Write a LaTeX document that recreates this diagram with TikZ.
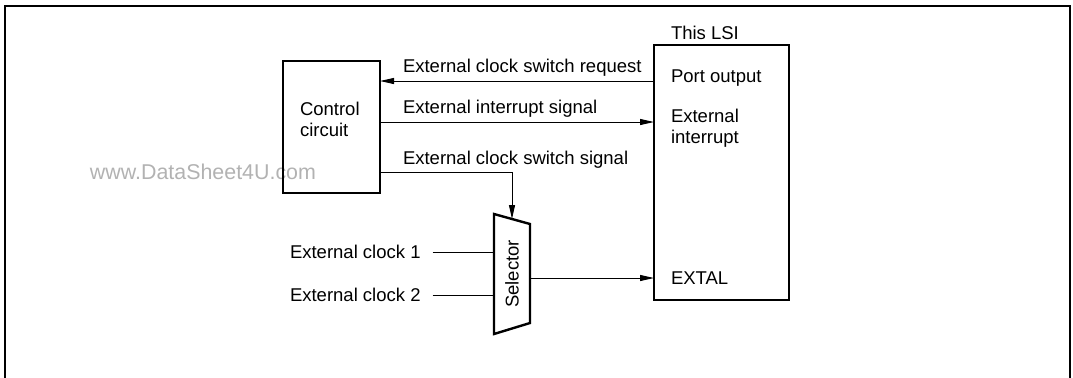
\documentclass[tikz,border=0pt]{standalone}
\usepackage{fontspec}
\setmainfont{Liberation Sans}
\usetikzlibrary{arrows.meta,positioning,calc}

\begin{document}
\begin{tikzpicture}[x=0.5pt, y=-0.5pt,
          blk/.style={draw, line width=1.2pt, inner sep=0pt, outer sep=0pt,
                      anchor=north west},
          lbl/.style={inner sep=0pt, outer sep=0pt, anchor=west, align=left,
                      font=\fontsize{9.25}{10.5}\selectfont},
          arr/.style={-{Triangle[length=7pt, width=3pt]}, line width=0.5pt},
          wire/.style={line width=0.5pt}
        ]
          \useasboundingbox (0,0) rectangle (1073,377);
          \draw[line width=1pt] (5,380) -- (5,6) -- (1070,6) -- (1070,380);
          \node[lbl, text=black!30, font=\fontsize{10.7}{12}\selectfont] (wm) at (90,172) {www.DataSheet4U.com};
          \node[blk, minimum width=48.5pt, minimum height=66pt] (ctrl) at (283,61) {};
          \node[lbl] (ctrltxt) at (300,119.5) {Control\\circuit};
          \node[blk, minimum width=67.5pt, minimum height=127.5pt] (lsi) at (654,45) {};
          \node[lbl] (lsititle) at (671,33) {This LSI};
          \node[lbl] (port) at (671,78) {Port output};
          \node[lbl] (extint) at (671,128.5) {External\\interrupt};
          \node[lbl] (extal) at (671,278) {EXTAL};
          \coordinate (s1) at (494,214);
          \coordinate (s2) at (530,224);
          \coordinate (s3) at (530,323);
          \coordinate (s4) at (494,334);
          \draw[line width=1.2pt] (s1) -- (s2) -- (s3) -- (s4) -- cycle;
          \node[lbl, rotate=90, anchor=center] (sel) at (512,274) {Selector};
          \coordinate (seltop) at (512,219);
          \coordinate (selout) at (530,278);
          \node[lbl] (clk1) at (290,252) {External clock 1};
          \node[lbl] (clk2) at (290,295) {External clock 2};
          \node[lbl] (reqtxt) at (403,68) {External clock switch request};
          \node[lbl] (inttxt) at (403,109) {External interrupt signal};
          \node[lbl] (swtxt) at (403,160) {External clock switch signal};
          \draw[arr] (lsi.west |- 0,81) -- (ctrl.east |- 0,81);
          \draw[arr] (ctrl.east |- 0,122) -- (lsi.west |- 0,122);
          \draw[arr] (ctrl.east |- 0,172) -| (seltop);
          \draw[wire] ([xshift=6pt]clk1.east) -- (s1 |- clk1.east);
          \draw[wire] ([xshift=6pt]clk2.east) -- (s1 |- clk2.east);
          \draw[arr] (selout) -- (lsi.west |- selout);
        \end{tikzpicture}
\end{document}
